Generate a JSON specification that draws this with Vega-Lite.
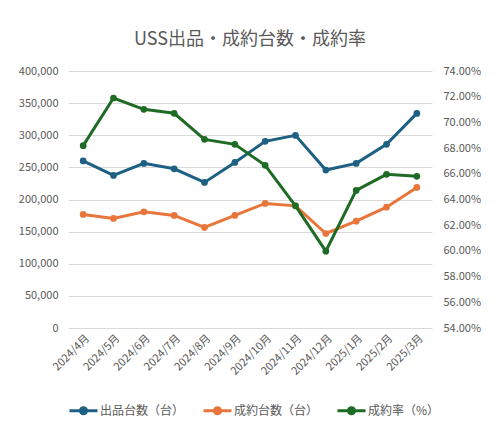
{
  "$schema": "https://vega.github.io/schema/vega-lite/v6.json",
  "width": 364,
  "height": 257,
  "autosize": "none",
  "padding": {"left": 68, "top": 71, "right": 70, "bottom": 110},
  "background": "white",
  "title": {
    "text": "USS出品・成約台数・成約率",
    "fontSize": 18,
    "fontWeight": "normal",
    "color": "#595959",
    "font": "Noto Sans CJK JP",
    "anchor": "middle",
    "offset": 16
  },
  "data": {
    "values": [
      {"month": "2024/4月", "series": "出品台数（台）", "value": 260000},
      {"month": "2024/5月", "series": "出品台数（台）", "value": 237500},
      {"month": "2024/6月", "series": "出品台数（台）", "value": 256200},
      {"month": "2024/7月", "series": "出品台数（台）", "value": 247800},
      {"month": "2024/8月", "series": "出品台数（台）", "value": 226600},
      {"month": "2024/9月", "series": "出品台数（台）", "value": 257700},
      {"month": "2024/10月", "series": "出品台数（台）", "value": 290500},
      {"month": "2024/11月", "series": "出品台数（台）", "value": 299800},
      {"month": "2024/12月", "series": "出品台数（台）", "value": 245800},
      {"month": "2025/1月", "series": "出品台数（台）", "value": 256200},
      {"month": "2025/2月", "series": "出品台数（台）", "value": 285800},
      {"month": "2025/3月", "series": "出品台数（台）", "value": 334000},
      {"month": "2024/4月", "series": "成約台数（台）", "value": 176700},
      {"month": "2024/5月", "series": "成約台数（台）", "value": 170500},
      {"month": "2024/6月", "series": "成約台数（台）", "value": 180800},
      {"month": "2024/7月", "series": "成約台数（台）", "value": 175200},
      {"month": "2024/8月", "series": "成約台数（台）", "value": 156500},
      {"month": "2024/9月", "series": "成約台数（台）", "value": 175200},
      {"month": "2024/10月", "series": "成約台数（台）", "value": 193900},
      {"month": "2024/11月", "series": "成約台数（台）", "value": 190100},
      {"month": "2024/12月", "series": "成約台数（台）", "value": 147100},
      {"month": "2025/1月", "series": "成約台数（台）", "value": 166300},
      {"month": "2025/2月", "series": "成約台数（台）", "value": 188100},
      {"month": "2025/3月", "series": "成約台数（台）", "value": 218800},
      {"month": "2024/4月", "series": "成約率（%）", "value": 0.6819},
      {"month": "2024/5月", "series": "成約率（%）", "value": 0.719},
      {"month": "2024/6月", "series": "成約率（%）", "value": 0.7102},
      {"month": "2024/7月", "series": "成約率（%）", "value": 0.7071},
      {"month": "2024/8月", "series": "成約率（%）", "value": 0.6868},
      {"month": "2024/9月", "series": "成約率（%）", "value": 0.6829},
      {"month": "2024/10月", "series": "成約率（%）", "value": 0.6666},
      {"month": "2024/11月", "series": "成約率（%）", "value": 0.6351},
      {"month": "2024/12月", "series": "成約率（%）", "value": 0.5998},
      {"month": "2025/1月", "series": "成約率（%）", "value": 0.6471},
      {"month": "2025/2月", "series": "成約率（%）", "value": 0.6596},
      {"month": "2025/3月", "series": "成約率（%）", "value": 0.658}
    ]
  },
  "config": {
    "font": "Noto Sans CJK JP",
    "view": {"stroke": null},
    "axis": {
      "domain": false,
      "ticks": false,
      "labelColor": "#595959",
      "labelFontSize": 11,
      "title": null
    }
  },
  "encoding": {
    "x": {
      "field": "month",
      "type": "ordinal",
      "sort": null,
      "scale": {"paddingInner": 0, "paddingOuter": 0},
      "axis": {"labelAngle": -45, "labelPadding": 4, "grid": false}
    },
    "color": {
      "field": "series",
      "type": "nominal",
      "scale": {
        "domain": ["出品台数（台）", "成約台数（台）", "成約率（%）"],
        "range": ["#1d6083", "#e8763b", "#1e6b24"]
      },
      "legend": {
        "orient": "none",
        "direction": "horizontal",
        "legendX": 0,
        "legendY": 324,
        "title": null,
        "labelFontSize": 12,
        "labelColor": "#595959",
        "columnPadding": 12,
        "symbolSize": 784,
        "symbolStrokeWidth": 3,
        "symbolType": "M-1,0H1M-0.22,0A0.22,0.22 0 1,1 0.22,0A0.22,0.22 0 1,1 -0.22,0Z",
        "labelOffset": 1,
        "encode": {
          "symbols": {
            "update": {
              "fill": {"scale": "color", "field": "value"},
              "stroke": {"scale": "color", "field": "value"}
            }
          }
        }
      }
    }
  },
  "layer": [
    {
      "transform": [{"filter": "datum.series !== '成約率（%）'"}],
      "mark": {"type": "line", "strokeWidth": 3, "point": {"filled": true, "size": 45}},
      "encoding": {
        "y": {
          "field": "value",
          "type": "quantitative",
          "scale": {"domain": [0, 400000], "nice": false},
          "axis": {
            "orient": "left",
            "values": [0, 50000, 100000, 150000, 200000, 250000, 300000, 350000, 400000],
            "format": ",.0f",
            "grid": true,
            "gridColor": "#d9d9d9",
            "labelPadding": 10
          }
        }
      }
    },
    {
      "transform": [{"filter": "datum.series === '成約率（%）'"}],
      "mark": {"type": "line", "strokeWidth": 3, "point": {"filled": true, "size": 45}},
      "encoding": {
        "y": {
          "field": "value",
          "type": "quantitative",
          "scale": {"domain": [0.54, 0.74], "nice": false, "zero": false},
          "axis": {
            "orient": "right",
            "values": [0.54, 0.56, 0.58, 0.6, 0.62, 0.64, 0.66, 0.68, 0.7, 0.72, 0.74],
            "format": ".2%",
            "grid": false,
            "labelPadding": 11
          }
        }
      }
    }
  ],
  "resolve": {"scale": {"y": "independent"}}
}
